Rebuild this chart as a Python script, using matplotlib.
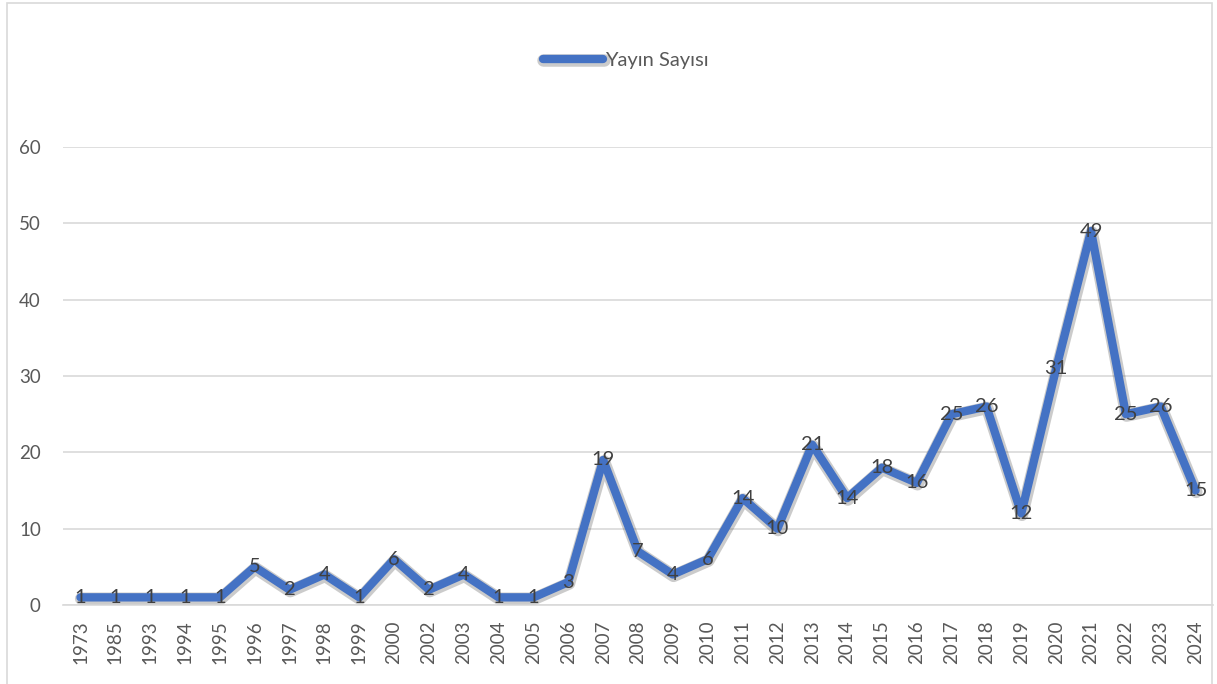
import matplotlib.pyplot as plt
import matplotlib.patheffects as pe
from matplotlib.patches import Rectangle

# Publication counts per year
years = ['1973', '1985', '1993', '1994', '1995', '1996', '1997', '1998', '1999', '2000',
         '2002', '2003', '2004', '2005', '2006', '2007', '2008', '2009', '2010', '2011',
         '2012', '2013', '2014', '2015', '2016', '2017', '2018', '2019', '2020', '2021',
         '2022', '2023', '2024']
counts = [1, 1, 1, 1, 1, 5, 2, 4, 1, 6,
          2, 4, 1, 1, 3, 19, 7, 4, 6, 14,
          10, 21, 14, 18, 16, 25, 26, 12, 31, 49,
          25, 26, 15]
series_name = 'Yayın Sayısı'

plt.rcParams['font.family'] = ['Lato', 'DejaVu Sans']

fig = plt.figure(figsize=(12.17, 6.84), dpi=100)
ax = fig.add_axes([0.0518, 0.1155, 0.9449, 0.6695])

x = range(len(years))
ax.plot(x, counts, color='#4472C4', lw=6, solid_joinstyle='round', solid_capstyle='round',
        label=series_name,
        path_effects=[pe.SimpleLineShadow(offset=(0.5, -1), shadow_color='#555555', alpha=0.3, linewidth=9),
                      pe.Normal()])

for xi, v in zip(x, counts):
    ax.text(xi, v, str(v), ha='center', va='center', fontsize=14.5, color='#404040')

ax.set_xlim(-0.5, len(years) - 0.5)
ax.set_ylim(0, 60)
ax.set_yticks(range(0, 61, 10))
ax.set_xticks(list(x))
ax.set_xticklabels(years, rotation=90)
ax.tick_params(axis='x', length=0, pad=11, labelsize=13.5, labelcolor='#595959')
ax.tick_params(axis='y', length=0, pad=16, labelsize=13.5, labelcolor='#595959')
ax.grid(axis='y', color='#D9D9D9', lw=1.2)
ax.set_axisbelow(True)
for side in ['top', 'right', 'left']:
    ax.spines[side].set_visible(False)
ax.spines['bottom'].set_color('#D9D9D9')
ax.spines['bottom'].set_linewidth(1.2)

leg = fig.legend(loc='center', bbox_to_anchor=(0.514, 0.912), frameon=False, fontsize=14.5,
                 handlelength=3.0, handletextpad=0.1)
for t in leg.get_texts():
    t.set_color('#595959')

# chart border
fig.patches.append(Rectangle((0.006, -0.01), 0.990, 1.005, transform=fig.transFigure,
                             fill=False, edgecolor='#D9D9D9', lw=1.2))

fig.savefig('out.png', dpi=100)
